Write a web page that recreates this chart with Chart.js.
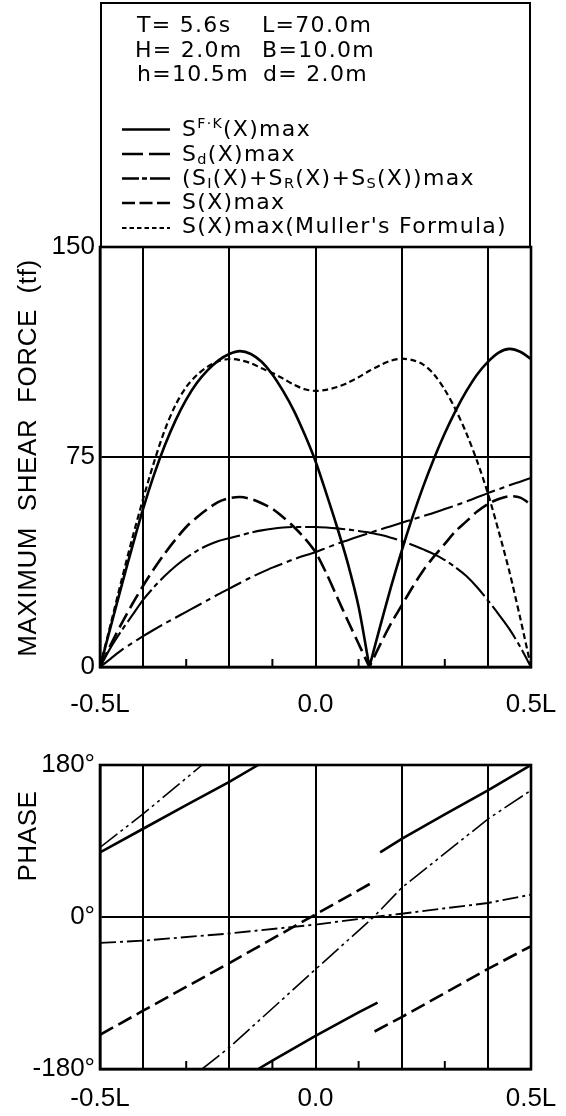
<!DOCTYPE html>
<html>
<head>
<meta charset="utf-8">
<script src="https://cdn.jsdelivr.net/npm/chart.js@4.4.1/dist/chart.umd.min.js"></script>
<style>
html,body{margin:0;padding:0;background:#fff;}
body{width:566px;height:1116px;position:relative;overflow:hidden;font-family:"DejaVu Sans",sans-serif;color:#000;}
#c1wrap{position:absolute;left:0;top:0;width:566px;height:740px;}
#c2wrap{position:absolute;left:0;top:740px;width:566px;height:376px;}
.legendbox{position:absolute;left:100px;top:2px;width:431px;height:246px;border:2.5px solid #000;box-sizing:border-box;}
.t{position:absolute;font-size:22px;line-height:24px;letter-spacing:1.3px;white-space:pre;}
.ytitle{position:absolute;font-family:"Liberation Sans",sans-serif;font-size:26px;line-height:30px;letter-spacing:0.6px;white-space:nowrap;transform:translate(-50%,-50%) rotate(-90deg);}
sub{font-size:0.66em;vertical-align:-0.18em;line-height:0;}
sup{font-size:0.64em;vertical-align:0.55em;line-height:0;}
#samples{position:absolute;left:0;top:0;}
</style>
</head>
<body>
<div id="c1wrap"><canvas id="c1"></canvas></div>
<div id="c2wrap"><canvas id="c2"></canvas></div>

<div class="legendbox"></div>
<div class="t" style="left:137px;top:13px;">T= 5.6s</div>
<div class="t" style="left:262px;top:13px;">L=70.0m</div>
<div class="t" style="left:135px;top:38px;">H= 2.0m</div>
<div class="t" style="left:262px;top:38px;">B=10.0m</div>
<div class="t" style="left:137px;top:62px;">h=10.5m</div>
<div class="t" style="left:263px;top:62px;">d= 2.0m</div>

<svg id="samples" width="566" height="250">
  <line x1="122" y1="129.5" x2="170" y2="129.5" stroke="#000" stroke-width="2.5"/>
  <line x1="122" y1="154" x2="170" y2="154" stroke="#000" stroke-width="2.5" stroke-dasharray="21 6 21 50"/>
  <line x1="122" y1="178.5" x2="170" y2="178.5" stroke="#000" stroke-width="2.5" stroke-dasharray="17 3 5 3 20 50"/>
  <line x1="122" y1="203" x2="170" y2="203" stroke="#000" stroke-width="2.5" stroke-dasharray="13 4.5 13 4.5 13 50"/>
  <line x1="122" y1="228" x2="170" y2="228" stroke="#000" stroke-width="2.2" stroke-dasharray="4.5 3"/>
</svg>
<div class="t" style="left:182px;top:117px;">S<sup>F·K</sup>(X)max</div>
<div class="t" style="left:182px;top:141.5px;">S<sub>d</sub>(X)max</div>
<div class="t" style="left:182px;top:165.5px;">(S<sub>I</sub>(X)+S<sub>R</sub>(X)+S<sub>S</sub>(X))max</div>
<div class="t" style="left:182px;top:190px;">S(X)max</div>
<div class="t" style="left:182px;top:214px;">S(X)max(Muller's Formula)</div>

<div class="ytitle" style="left:27px;top:458px;">MAXIMUM&nbsp; SHEAR&nbsp; FORCE&nbsp; (tf)</div>
<div class="ytitle" style="left:27px;top:836px;">PHASE</div>

<script>
// ---------- top chart: maximum shear force (tf) along the ship, x in units of L ----------
const xs = [-0.5,-0.475,-0.45,-0.425,-0.4,-0.375,-0.35,-0.325,-0.3,-0.275,-0.25,-0.225,-0.2,-0.175,-0.15,-0.125,-0.1,-0.075,-0.05,-0.025,0,0.025,0.05,0.075,0.1,0.125,0.125,0.15,0.175,0.2,0.225,0.25,0.275,0.3,0.325,0.35,0.375,0.4,0.425,0.45,0.475,0.5];
const sFK  = [0,14.5,29,43,56.5,68.5,79,88,95.5,101.5,106,109.5,111.8,112.8,111.8,109,104.5,98.5,91.5,83,73.5,62,50,37,21.5,0,0,14.5,28.5,41.5,53.5,64.5,74.5,83.5,91.5,98.5,104.5,109,112.3,113.6,112.6,110];
const sD   = [0,8,15.5,22.5,29,35,40.5,45.5,50,53.5,56.5,59,60.3,60.7,60,58.5,56.5,53.5,50,46,41,33.5,25,16.5,8.3,0,0,8,15.5,22,28.5,34.5,39.5,44,48.5,52,55.5,58.2,60,61,60.5,58];
const sI   = [0,3,6,8.6,11,13.3,15.5,17.6,19.7,21.8,23.9,26,28,30,32,33.8,35.5,37,38.5,39.8,41,42.5,44,45.3,46.6,47.9,47.9,49.1,50.3,51.5,52.7,53.9,55.1,56.4,57.7,59.1,60.6,62.1,63.5,64.9,66.2,67.5];
const sX   = [0,7,13,18.5,24,28.5,32.5,36,39,41.5,43.5,45,46,47,48,48.8,49.4,49.8,50,50,50,49.8,49.5,49.1,48.6,48,48,47.2,46.2,45,43.6,42,40.3,38.2,35.6,32.5,28.5,23.8,18.8,13.5,7.2,0];
const sMul = [0,15.5,31,46,60,73,84.5,93.5,100,104.3,107.3,109.2,110,109.6,108.5,106.7,105,103,100.8,99.2,98.6,99,100,101.5,103.5,105.8,105.8,107.8,109.4,110.1,109.6,108,104.5,99,92,83.5,73.5,62,48.5,34,17.5,0];

// ---------- bottom chart: phase (deg); null = jump / wrap ----------
const phFK_x = [-0.5,-0.4,-0.3,-0.2,-0.133,-0.133,-0.133,-0.1,0,0.1,0.144,0.144,0.15,0.2,0.3,0.4,0.5];
const phFK_y = [76.5,104.5,132.5,160,180,null,-180,-170,-140.7,-113,-101.4,null,76.5,92.4,121.5,150,180];
const phD_x  = [-0.5,-0.4,-0.2,0,0.137,0.137,0.137,0.2,0.4,0.5];
const phD_y  = [-139.5,-111,-54.5,3,42.3,null,-135.6,-118.5,-61.5,-34.6];
const phI_x  = [-0.5,-0.4,-0.2,0,0.135,0.2,0.4,0.5];
const phI_y  = [-30.7,-28,-19.5,-9,0,3.9,16.6,26.5];
const phS_x  = [-0.5,-0.4,-0.263,-0.263,-0.263,-0.2,0,0.135,0.2,0.4,0.5];
const phS_y  = [82.4,122,180,null,-180,-154.5,-62,0,34.6,116,150];

// ---------- axes ----------
const xTickVals   = [-0.5,-0.4,-0.2,0,0.2,0.4,0.5];
const xLabelVals  = [-0.5,0,0.5];
const xLabelTexts = ['-0.5L','0.0','0.5L'];
const xMinorVals  = [-0.3,-0.1,0.1,0.3];
const yTopVals    = [0,75,150];
const yTopTexts   = ['0','75','150'];
const yBotVals    = [-180,0,180];
const yBotTexts   = ['-180°','0°','180°'];

const near = (a,b) => Math.abs(a-b) < 1e-6;
const pts = (X, Y) => X.map((x,i) => ({x: x, y: Y[i]}));
const tickFont = {family: '"Liberation Sans", sans-serif', size: 26};

const framePlugin = {
  id: 'frame',
  afterDatasetsDraw(chart) {
    const ctx = chart.ctx, a = chart.chartArea, sx = chart.scales.x;
    ctx.save();
    ctx.strokeStyle = '#000';
    ctx.lineWidth = 2;
    ctx.setLineDash([]);
    xMinorVals.forEach(v => {
      const px = sx.getPixelForValue(v);
      ctx.beginPath(); ctx.moveTo(px, a.bottom); ctx.lineTo(px, a.bottom - 8); ctx.stroke();
    });
    ctx.lineWidth = 2.6;
    ctx.strokeRect(a.left, a.top, a.right - a.left, a.bottom - a.top);
    ctx.restore();
  }
};

function xScale(height, pad) {
  return {
    type: 'linear', min: -0.5, max: 0.5,
    afterBuildTicks: s => { s.ticks = xTickVals.map(v => ({value: v})); },
    afterFit: s => { s.height = height; s.paddingLeft = 0; s.paddingRight = 0; },
    ticks: {
      autoSkip: false, maxRotation: 0, padding: pad, font: tickFont, color: '#000',
      callback: v => { const i = xLabelVals.findIndex(t => near(t, v)); return i >= 0 ? xLabelTexts[i] : ''; }
    },
    grid: {drawTicks: false, color: '#000', lineWidth: 2},
    border: {display: true, color: '#000', width: 2.5}
  };
}
function yScale(min, max, vals, texts) {
  return {
    type: 'linear', min: min, max: max,
    afterBuildTicks: s => { s.ticks = vals.map(v => ({value: v})); },
    afterFit: s => { s.width = 100; s.paddingTop = 0; s.paddingBottom = 0; },
    ticks: {
      padding: 5, font: tickFont, color: '#000',
      callback: v => { const i = vals.findIndex(t => near(t, v)); return i >= 0 ? texts[i] : ''; }
    },
    grid: {drawTicks: false, color: '#000', lineWidth: 2},
    border: {display: true, color: '#000', width: 2.5}
  };
}
function ds(label, data, dash, width) {
  return {label: label, data: data, borderColor: '#000', backgroundColor: '#000',
          borderWidth: width, borderDash: dash, pointRadius: 0, fill: false, spanGaps: false};
}
const baseOpts = {
  responsive: true, maintainAspectRatio: false, animation: false, devicePixelRatio: 1,
  plugins: {legend: {display: false}, tooltip: {enabled: false}}
};

new Chart(document.getElementById('c1'), {
  type: 'line',
  data: {datasets: [
    ds('SF·K(X)max', pts(xs, sFK), [], 2.6),
    ds('Sd(X)max', pts(xs, sD), [16, 6], 2.6),
    ds('(SI(X)+SR(X)+SS(X))max', pts(xs, sI), [30, 5, 5, 5], 2.1),
    ds('S(X)max', pts(xs, sX), [40, 4, 5, 4], 2.1),
    ds("S(X)max(Muller's Formula)", pts(xs, sMul), [6, 3.5], 2.2)
  ]},
  options: Object.assign({}, baseOpts, {
    elements: {point: {radius: 0}, line: {tension: 0.3, borderCapStyle: 'butt', borderJoinStyle: 'round'}},
    layout: {padding: {top: 247, right: 35, left: 0, bottom: 0}},
    scales: {x: xScale(73, 22), y: yScale(0, 150, yTopVals, yTopTexts)}
  }),
  plugins: [framePlugin]
});

new Chart(document.getElementById('c2'), {
  type: 'line',
  data: {datasets: [
    ds('SF·K phase', pts(phFK_x, phFK_y), [], 2.6),
    ds('Sd phase', pts(phD_x, phD_y), [15, 6], 2.6),
    ds('(SI+SR+SS) phase', pts(phI_x, phI_y), [16, 4, 3, 4], 1.9),
    ds('S(X) phase', pts(phS_x, phS_y), [22, 4, 3, 4, 3, 4], 1.6)
  ]},
  options: Object.assign({}, baseOpts, {
    elements: {point: {radius: 0}, line: {tension: 0, borderCapStyle: 'butt', borderJoinStyle: 'round'}},
    layout: {padding: {top: 25, right: 35, left: 0, bottom: 0}},
    scales: {x: xScale(47, 14), y: yScale(-180, 180, yBotVals, yBotTexts)}
  }),
  plugins: [framePlugin]
});
</script>
</body>
</html>
